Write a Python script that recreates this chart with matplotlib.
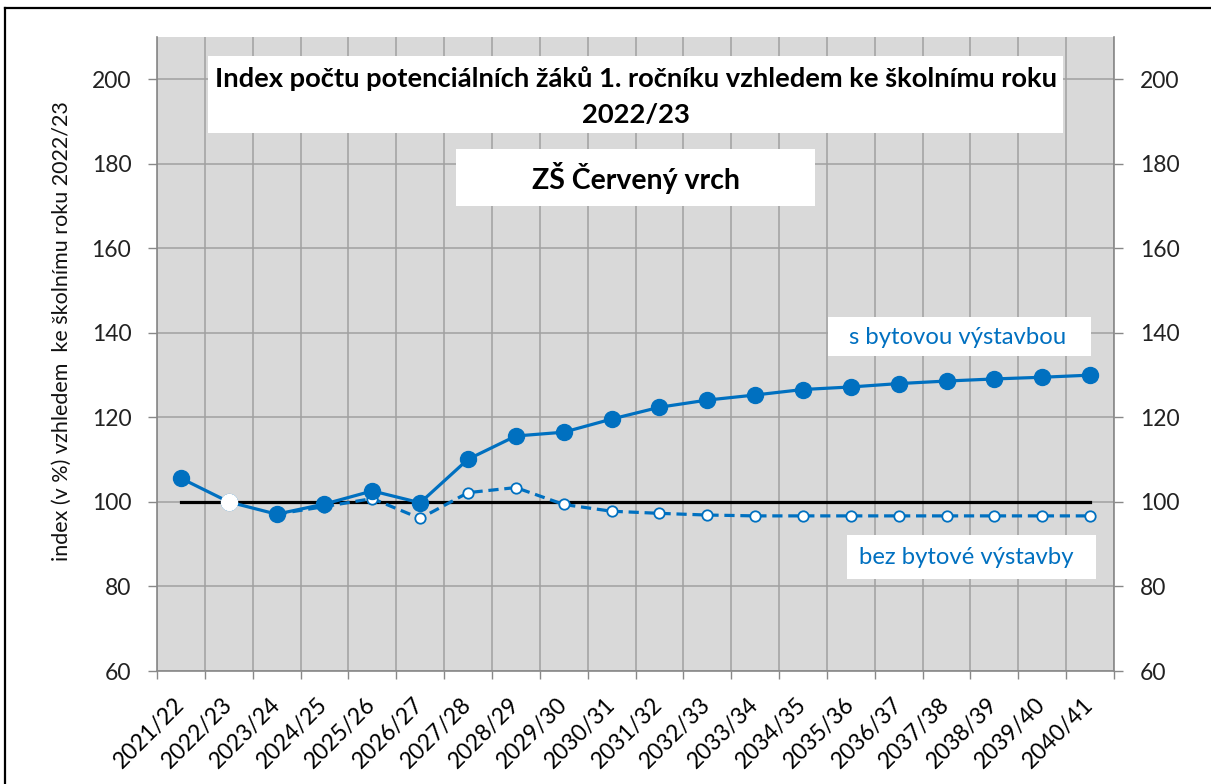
import numpy as np
import matplotlib
matplotlib.use("Agg")
import matplotlib.pyplot as plt
from matplotlib.patches import Rectangle
from matplotlib.lines import Line2D

plt.rcParams['font.family'] = ['Lato', 'DejaVu Sans']

# school years (categories)
years = ["2021/22", "2022/23", "2023/24", "2024/25", "2025/26", "2026/27", "2027/28",
         "2028/29", "2029/30", "2030/31", "2031/32", "2032/33", "2033/34", "2034/35",
         "2035/36", "2036/37", "2037/38", "2038/39", "2039/40", "2040/41"]

# index with housing construction
s_vystavbou = [105.6, 100.0, 97.1, 99.5, 102.6, 99.8, 110.1, 115.6, 116.5, 119.6,
               122.4, 124.1, 125.3, 126.6, 127.2, 128.0, 128.6, 129.1, 129.5, 130.0]

# index without housing construction
bez_vystavby = [np.nan, np.nan, 97.1, 98.9, 100.8, 96.1, 102.2, 103.4, 99.4, 97.8,
                97.3, 96.9, 96.7, 96.7, 96.7, 96.7, 96.7, 96.7, 96.7, 96.7]

# base line (2022/23 = 100)
zaklad = [100] * len(years)

base_year = "2022/23"

blue = "#0070C0"
grid_col = "#a0a0a0"
W, H = 1211, 784

fig = plt.figure(figsize=(W / 100, H / 100), dpi=100)
ax = fig.add_axes([157 / W, 1 - 671 / H, (1114 - 157) / W, (671 - 37) / H])
ax.set_facecolor("#d9d9d9")

x = np.arange(len(years))

ax.plot(x, zaklad, color="black", lw=2.3, zorder=3)
ax.plot(x, bez_vystavby, color=blue, lw=2.3, ls=(0, (3.2, 1.8)), marker="o",
        ms=7.5, mfc="white", mec=blue, mew=1.3, zorder=4)
ax.plot(x, s_vystavbou, color=blue, lw=2.3, marker="o", ms=11.5,
        mfc=blue, mec=blue, zorder=5)
# base year point shown in white
bi = years.index(base_year)
ax.plot(x[bi], s_vystavbou[bi], marker="o", ms=11.5, mfc="white", mec="white", zorder=6)

ax.set_xlim(-0.5, len(years) - 0.5)
ax.set_ylim(60, 210)
ax.set_yticks(np.arange(60, 201, 20))
ax.set_xticks(np.arange(-0.5, len(years), 1))
ax.set_xticklabels([])
ax.set_xticks(x, minor=True)
ax.set_xticklabels(years, minor=True, rotation=45, ha="right", va="center",
                   rotation_mode="anchor", fontsize=16.5)
ax.tick_params(axis="x", which="minor", length=0, pad=22)
ax.tick_params(axis="x", which="major", length=6, color="#888888", width=1)
ax.tick_params(axis="y", left=True, right=True, labelleft=True, labelright=True,
               length=6.5, color="#888888", width=1, labelsize=16.5, pad=12,
               labelcolor="#222222")

ax.grid(True, which="major", color=grid_col, lw=1.1)
ax.set_axisbelow(True)
for side in ["left", "right", "bottom"]:
    ax.spines[side].set_color("#888888")
    ax.spines[side].set_linewidth(1.2)
ax.spines["top"].set_visible(False)

fig.text(62 / W, 1 - 331 / H, "index (v %) vzhledem  ke školnímu roku 2022/23",
         rotation=90, ha="center", va="center", fontsize=15.5, color="#111111")


def box(x0, y0, x1, y1):
    fig.add_artist(Rectangle((x0 / W, 1 - y1 / H), (x1 - x0) / W, (y1 - y0) / H,
                             transform=fig.transFigure, facecolor="white",
                             edgecolor="none", zorder=7))


def label(xc, yc, s, **kw):
    fig.text(xc / W, 1 - yc / H, s, ha="center", va="center", zorder=8, **kw)


box(208, 56, 1063, 133)
label(636, 79, "Index počtu potenciálních žáků 1. ročníku vzhledem ke školnímu roku",
      fontsize=19.7, fontweight="bold", color="black")
label(636, 115, "2022/23", fontsize=19.7, fontweight="bold", color="black")

box(456, 149, 815, 206)
label(636, 178, "ZŠ Červený vrch", fontsize=20.5, fontweight="bold", color="black")

box(828, 317, 1091, 356)
label(958, 337, "s bytovou výstavbou", fontsize=17.2, color=blue)

box(847, 535, 1096, 579)
label(966, 557, "bez bytové výstavby", fontsize=17.2, color=blue)

# chart border (cropped at right/bottom)
fig.add_artist(Line2D([5 / W, 1], [1 - 8 / H, 1 - 8 / H], transform=fig.transFigure,
                      color="black", lw=1.6))
fig.add_artist(Line2D([5 / W, 5 / W], [0, 1 - 8 / H], transform=fig.transFigure,
                      color="black", lw=1.6))

fig.savefig("out.png", dpi=100, facecolor="white")
